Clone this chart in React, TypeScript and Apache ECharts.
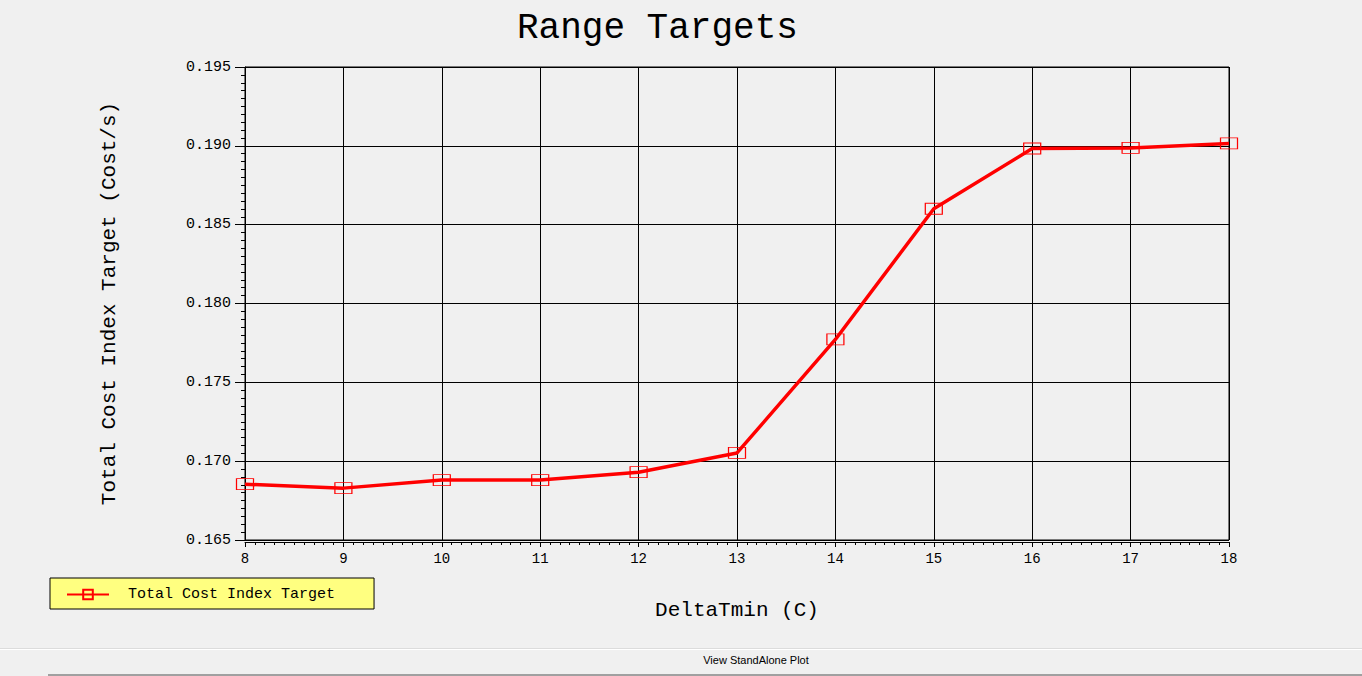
import React, { useEffect, useRef } from "react";
import * as echarts from "echarts";

const xValues = [8, 9, 10, 11, 12, 13, 14, 15, 16, 17, 18];
const costIndex = [0.16854, 0.16829, 0.1688, 0.1688, 0.1693, 0.17052, 0.17772, 0.18601, 0.18983, 0.18987, 0.19015];
const seriesName = "Total Cost Index Target";
const titleText = "Range Targets";
const xAxisName = "DeltaTmin (C)";
const yAxisName = "Total Cost Index Target (Cost/s)";
const footerText = "View StandAlone Plot";

const MONO = "'Liberation Mono', 'DejaVu Sans Mono', monospace";

export default function App() {
  const ref = useRef<HTMLDivElement>(null);
  useEffect(() => {
    document.body.style.margin = "0";
    const chart = echarts.init(ref.current!, null, { renderer: "svg" });
    chart.setOption({
      animation: false,
      backgroundColor: "#f0f0f0",
      title: {
        text: titleText,
        left: 512,
        top: 5,
        textStyle: { fontFamily: MONO, fontSize: 36, fontWeight: "normal", color: "#000" },
      },
      legend: {
        left: 50,
        top: 578,
        orient: "horizontal",
        backgroundColor: "#ffff80",
        borderColor: "#000",
        borderWidth: 1,
        borderRadius: 0,
        padding: [9, 39, 7, 16],
        itemWidth: 42,
        itemHeight: 12,
        textStyle: { fontFamily: MONO, fontSize: 15, color: "#000", padding: [0, 0, 0, 14] },
        data: [seriesName],
      },
      grid: {
        left: 245,
        right: 133,
        top: 67,
        bottom: 136,
        show: true,
        borderColor: "#000",
        borderWidth: 1,
        backgroundColor: "transparent",
      },
      xAxis: {
        type: "value",
        min: 8,
        max: 18,
        interval: 1,
        offset: 2,
        name: xAxisName,
        nameLocation: "middle",
        nameGap: 58,
        nameTextStyle: { fontFamily: MONO, fontSize: 21, color: "#000" },
        axisLine: { show: true, onZero: false, lineStyle: { color: "#000", width: 1 } },
        axisTick: { show: true, length: 5, lineStyle: { color: "#000" } },
        minorTick: { show: true, splitNumber: 10, length: 3, lineStyle: { color: "#000" } },
        axisLabel: { fontFamily: MONO, fontSize: 14, color: "#000", margin: 10 },
        splitLine: { show: true, lineStyle: { color: "#000", width: 1 } },
      },
      yAxis: {
        type: "value",
        min: 0.165,
        max: 0.195,
        interval: 0.005,
        name: yAxisName,
        nameLocation: "middle",
        nameGap: 125,
        nameTextStyle: { fontFamily: MONO, fontSize: 21, color: "#000" },
        axisLine: { show: true, onZero: false, lineStyle: { color: "#000", width: 1 } },
        axisTick: { show: true, length: 10, lineStyle: { color: "#000" } },
        minorTick: { show: true, splitNumber: 10, length: 4, lineStyle: { color: "#000" } },
        axisLabel: {
          fontFamily: MONO,
          fontSize: 15,
          color: "#000",
          margin: 14,
          formatter: (v: number) => v.toFixed(3),
        },
        splitLine: { show: true, lineStyle: { color: "#000", width: 1 } },
      },
      series: [
        {
          name: seriesName,
          type: "line",
          data: xValues.map((x, i) => [x, costIndex[i]]),
          symbol: "rect",
          symbolSize: [17, 11],
          showAllSymbol: true,
          clip: false,
          lineStyle: { color: "#ff0000", width: 3.5 },
          itemStyle: { color: "rgba(0,0,0,0)", borderColor: "#ff0000", borderWidth: 1 },
          emphasis: { disabled: true },
        },
      ],
      graphic: [
        {
          type: "line",
          shape: { x1: 0, y1: 648.5, x2: 1362, y2: 648.5 },
          style: { stroke: "#dcdcdc", lineWidth: 1 },
        },
        {
          type: "line",
          shape: { x1: 0, y1: 649.5, x2: 1362, y2: 649.5 },
          style: { stroke: "#ffffff", lineWidth: 1 },
        },
        {
          type: "line",
          shape: { x1: 48, y1: 675, x2: 1362, y2: 675 },
          style: { stroke: "#a0a0a0", lineWidth: 2 },
        },
        {
          type: "text",
          x: 756,
          y: 660,
          style: {
            text: footerText,
            fontFamily: "'Liberation Sans', 'DejaVu Sans', sans-serif",
            fontSize: 11,
            fill: "#000",
            textAlign: "center",
            textVerticalAlign: "middle",
          },
        },
      ],
    });
    return () => chart.dispose();
  }, []);
  return <div ref={ref} style={{ width: 1362, height: 676 }} />;
}
